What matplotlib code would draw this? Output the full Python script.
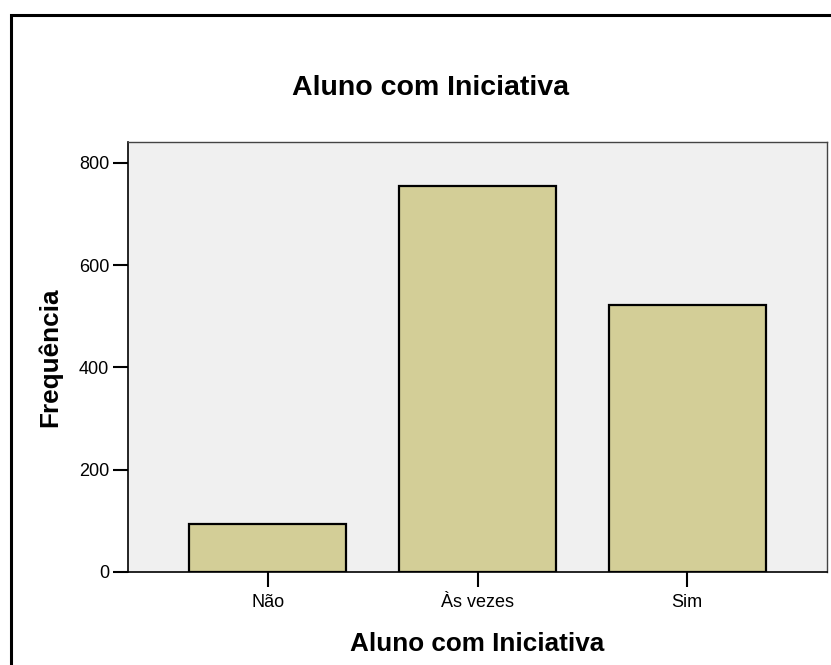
import matplotlib.pyplot as plt
from matplotlib.patches import Rectangle

plt.rcParams['font.family'] = ['Liberation Sans', 'DejaVu Sans']

# Data
categorias = ['Não', 'Às vezes', 'Sim']
frequencia = [94, 755, 522]
yticks = [0, 200, 400, 600, 800]

W, H = 831, 665
fig = plt.figure(figsize=(W / 100, H / 100), dpi=100)

# outer frame (runs off the right and bottom edges)
fig.patches.append(Rectangle((11 / W, -0.1), 1.2, 1 - 15 / H + 0.1,
                             transform=fig.transFigure, fill=False,
                             edgecolor='black', linewidth=2.2))

left, right, top, bottom = 128, 827, 142, 572
ax = fig.add_axes([left / W, 1 - bottom / H, (right - left) / W, (bottom - top) / H])
ax.set_facecolor('#f0f0f0')

x = range(len(categorias))
ax.bar(x, frequencia, width=0.75, color='#d3ce97', edgecolor='black', linewidth=1.6)

ax.set_xlim(-0.667, 2.667)
ax.set_ylim(0, 841)
ax.set_xticks(list(x))
ax.set_xticklabels(categorias, fontsize=13)
ax.set_yticks(yticks)
ax.set_yticklabels([str(v) for v in yticks], fontsize=13)
ax.tick_params(axis='both', length=10.5, width=1.5, color='black', pad=3)
ax.tick_params(axis='x', pad=5)

for s in ['left', 'bottom']:
    ax.spines[s].set_linewidth(1.2)
for s in ['top', 'right']:
    ax.spines[s].set_linewidth(1.0)
    ax.spines[s].set_color('#444444')

ax.set_xlabel('Aluno com Iniciativa', fontsize=18.8, fontweight='bold')
ax.xaxis.set_label_coords(0.5, -(632 - bottom) / (bottom - top))
ax.set_ylabel('Frequência', fontsize=18.8, fontweight='bold')
ax.yaxis.set_label_coords(-(left - 62) / (right - left), 0.5)

fig.text(431 / W, 1 - 88 / H, 'Aluno com Iniciativa', fontsize=20.5,
         fontweight='bold', ha='center', va='center')

fig.savefig('out.png', dpi=100)
